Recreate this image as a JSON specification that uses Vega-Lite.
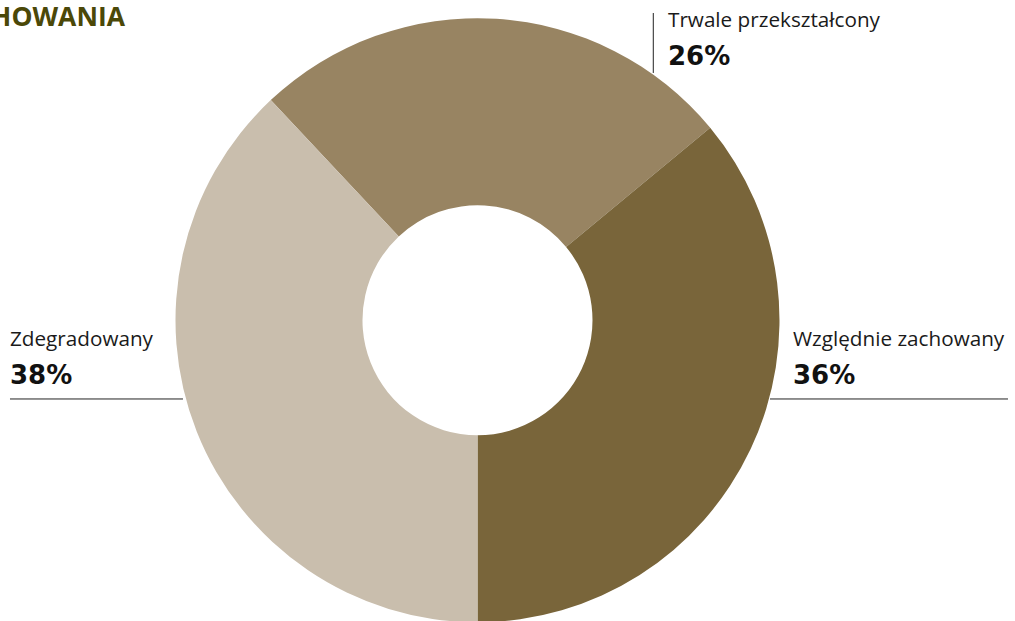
{
  "$schema": "https://vega.github.io/schema/vega-lite/v6.json",
  "width": 1015,
  "height": 621,
  "padding": 0,
  "autosize": "none",
  "background": "white",
  "config": {"view": {"stroke": null}},
  "datasets": {
    "slices": [
      {"cat": "Trwale przekształcony", "pct": 26, "label": "26%", "lx": 0.6308, "ly": 0.846, "rx": 0.5821, "rx2": 0.5821, "ry": 1.0182, "ry2": 0.8195},
      {"cat": "Względnie zachowany", "pct": 36, "label": "36%", "lx": 1.0447, "ly": -0.2103, "rx": 0.9685, "rx2": 1.7566, "ry": -0.2609, "ry2": -0.2609},
      {"cat": "Zdegradowany", "pct": 38, "label": "38%", "lx": -1.548, "ly": -0.2113, "rx": -1.548, "rx2": -0.9752, "ry": -0.2609, "ry2": -0.2609}
    ],
    "title": [{"t": "STAN ZACHOWANIA", "tx": -1.1672, "ty": 0.975}]
  },
  "resolve": {"scale": {"x": "shared", "y": "shared"}},
  "layer": [
    {
      "data": {"name": "slices"},
      "mark": {"type": "arc", "outerRadius": 302, "innerRadius": 115, "stroke": null},
      "encoding": {
        "x": {"datum": 0, "type": "quantitative", "scale": {"domain": [-1.5811, 1.7798], "nice": false, "zero": false}, "axis": null},
        "y": {"datum": 0, "type": "quantitative", "scale": {"domain": [-0.9967, 1.0613], "nice": false, "zero": false}, "axis": null},
        "theta": {"field": "pct", "type": "quantitative", "stack": true, "scale": {"range": [5.5292, 11.8124]}},
        "color": {"field": "cat", "type": "nominal", "legend": null, "scale": {"domain": ["Trwale przekształcony", "Względnie zachowany", "Zdegradowany"], "range": ["#988462", "#79653a", "#c9bead"]}}
      }
    },
    {
      "data": {"name": "slices"},
      "mark": {"type": "rule", "color": "#222222", "strokeWidth": 1},
      "encoding": {
        "x": {"field": "rx", "type": "quantitative"},
        "x2": {"field": "rx2"},
        "y": {"field": "ry", "type": "quantitative"},
        "y2": {"field": "ry2"}
      }
    },
    {
      "data": {"name": "slices"},
      "mark": {"type": "text", "align": "left", "baseline": "alphabetic", "font": "Open Sans", "fontSize": 20.7, "color": "#1a1a1a", "dy": -38},
      "encoding": {
        "x": {"field": "lx", "type": "quantitative"},
        "y": {"field": "ly", "type": "quantitative"},
        "text": {"field": "cat"}
      }
    },
    {
      "data": {"name": "slices"},
      "mark": {"type": "text", "align": "left", "baseline": "alphabetic", "font": "DejaVu Sans", "fontSize": 26, "fontWeight": "bold", "color": "#111111"},
      "encoding": {
        "x": {"field": "lx", "type": "quantitative"},
        "y": {"field": "ly", "type": "quantitative"},
        "text": {"field": "label"}
      }
    },
    {
      "data": {"name": "title"},
      "mark": {"type": "text", "align": "right", "baseline": "alphabetic", "font": "Open Sans", "fontSize": 26.5, "fontWeight": "bold", "color": "#4b4808"},
      "encoding": {
        "x": {"field": "tx", "type": "quantitative"},
        "y": {"field": "ty", "type": "quantitative"},
        "text": {"field": "t"}
      }
    }
  ]
}
